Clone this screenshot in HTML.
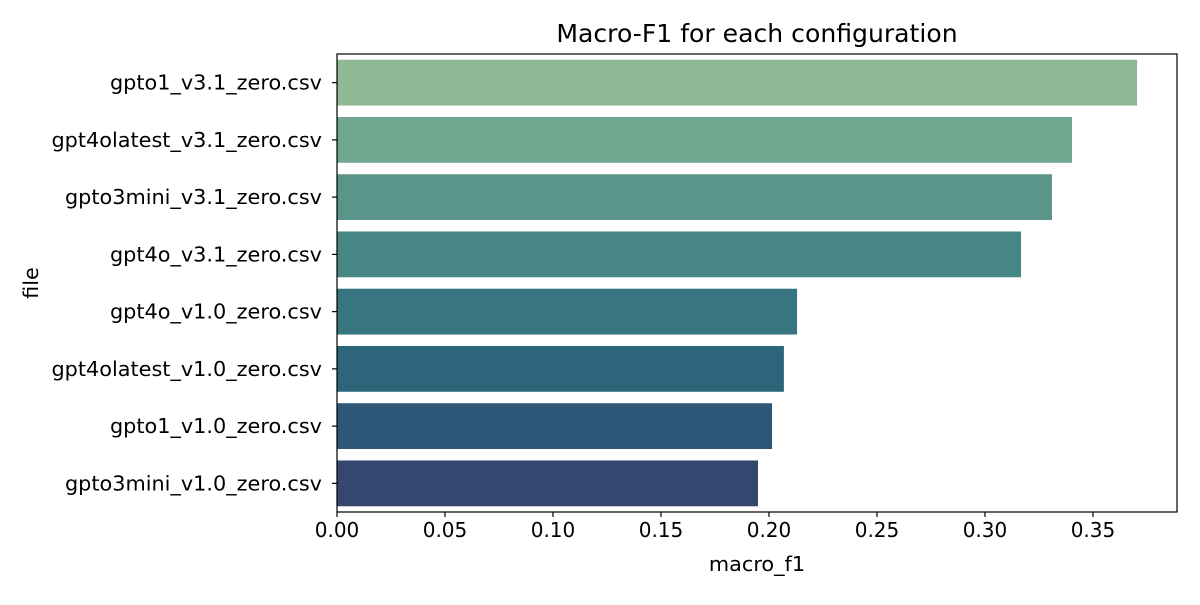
<!DOCTYPE html>
<html><head><meta charset="utf-8"><style>
body{margin:0;background:#fff}
svg text{font-family:"DejaVu Sans","Liberation Sans",sans-serif;fill:#000}
</style></head><body>
<svg id="chart" width="1200" height="600" xmlns="http://www.w3.org/2000/svg">
<rect width="1200" height="600" fill="#fff"/>
<g id="bars"></g>
<g id="axes"></g>
<text x="757" y="42" font-size="25.1" text-anchor="middle">Macro-F1 for each configuration</text>
<text x="757" y="571" font-size="20.8" text-anchor="middle">macro_f1</text>
<text transform="translate(38,283) rotate(-90)" font-size="20.8" text-anchor="middle">file</text>
</svg>
<script>
const categories=["gpto1_v3.1_zero.csv","gpt4olatest_v3.1_zero.csv","gpto3mini_v3.1_zero.csv","gpt4o_v3.1_zero.csv","gpt4o_v1.0_zero.csv","gpt4olatest_v1.0_zero.csv","gpto1_v1.0_zero.csv","gpto3mini_v1.0_zero.csv"];
const values=[0.3704,0.3403,0.3310,0.3167,0.2130,0.2069,0.2014,0.1949];
const colors=["#8fb895","#70a78f","#5b9489","#468684","#377580","#2d657a","#2e5777","#35466f"];
const ticks=[0,0.05,0.10,0.15,0.20,0.25,0.30,0.35];
const tickLabels=["0.00","0.05","0.10","0.15","0.20","0.25","0.30","0.35"];
const NS="http://www.w3.org/2000/svg";
const L=337,R=1177,T=54,B=512,xmax=0.3889;
const x=v=>L+v/xmax*(R-L);
const band=(B-T)/categories.length;
const y=i=>T+i*band;
const bars=document.getElementById('bars'),axes=document.getElementById('axes');
function mk(t,a,p){const e=document.createElementNS(NS,t);for(const k in a)e.setAttribute(k,a[k]);p.appendChild(e);return e;}
categories.forEach((c,i)=>{
  const r=mk('rect',{x:L,y:y(i)+band*0.1,width:x(values[i])-L,height:band*0.8,fill:colors[i]},bars);
  
  
  const tk=mk('line',{x1:L-5,x2:L,y1:y(i)+band/2,y2:y(i)+band/2,stroke:'#000','stroke-width':1.2},axes);
  
  
  const t=mk('text',{x:L-15,y:y(i)+band/2+7,'font-size':20.8,'text-anchor':'end'},axes);
  t.textContent=c;
  
  
});
ticks.forEach((v,i)=>{
  const tk=mk('line',{x1:x(v),x2:x(v),y1:B,y2:B+5,stroke:'#000','stroke-width':1.2},axes);
  
  
  const t=mk('text',{x:x(v),y:B+25,'font-size':20,'text-anchor':'middle'},axes);
  t.textContent=tickLabels[i];
  
  
});
const fr=mk('rect',{x:L,y:T,width:R-L,height:B-T,fill:'none',stroke:'#000','stroke-width':1.2},axes);


</script>
</body></html>
